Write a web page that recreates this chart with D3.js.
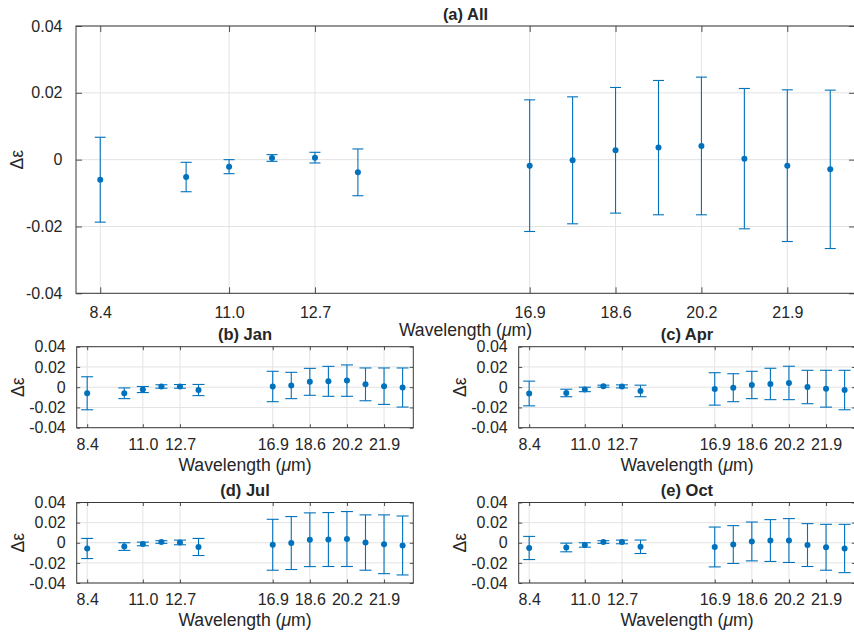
<!DOCTYPE html>
<html>
<head>
<meta charset="utf-8">
<script src="https://cdn.jsdelivr.net/npm/d3@7"></script>
<style>
  html, body { margin: 0; padding: 0; background: #fff; }
  svg { display: block; }
  text { font-family: Helvetica, "Liberation Sans", Arial, sans-serif; fill: #262626; }
</style>
</head>
<body>
<svg id="chart" width="854" height="637"></svg>
<script>
// ---------------- data ----------------
const bands = [8.40, 10.10, 10.95, 11.80, 12.65, 13.50, 16.90, 17.75, 18.60, 19.45, 20.30, 21.15, 22.00, 22.85];
const tickBands = [8.40, 10.95, 12.65, 16.90, 18.60, 20.30, 22.00];
const tickLabels = ["8.4", "11.0", "12.7", "16.9", "18.6", "20.2", "21.9"];
const yTicks = [-0.04, -0.02, 0, 0.02, 0.04];
const yTickLabels = ["-0.04", "-0.02", "0", "0.02", "0.04"];

const allMean = [-0.0060, -0.0052, -0.0021, 0.0005, 0.0006, -0.0038, -0.0018, -0.0002, 0.0028, 0.0036, 0.0041, 0.0003, -0.0018, -0.0029];
const allErr  = [ 0.0127,  0.0044,  0.0021, 0.0010, 0.0016,  0.0070,  0.0197,  0.0190, 0.0188, 0.0201, 0.0206, 0.0210,  0.0227,  0.0237];

const janMean = [-0.0060, -0.0060, -0.0023, 0.0007, 0.0008, -0.0028, 0.0007, 0.0017, 0.0053, 0.0058, 0.0065, 0.0028, 0.0010, -0.0003];
const janErr  = [ 0.0163,  0.0053,  0.0030, 0.0017, 0.0018,  0.0055, 0.0150, 0.0130, 0.0133, 0.0148, 0.0155, 0.0162, 0.0180,  0.0193];

const aprMean = [-0.0062, -0.0057, -0.0022, 0.0010, 0.0008, -0.0037, -0.0017, -0.0005, 0.0022, 0.0032, 0.0042, 0.0002, -0.0015, -0.0028];
const aprErr  = [ 0.0122,  0.0037,  0.0022, 0.0010, 0.0015,  0.0057,  0.0160,  0.0138, 0.0135, 0.0155, 0.0165, 0.0165,  0.0182,  0.0195];

const julMean = [-0.0057, -0.0038, -0.0012, 0.0007, 0.0003, -0.0042, -0.0020, -0.0003, 0.0030, 0.0032, 0.0037, 0.0002, -0.0015, -0.0027];
const julErr  = [ 0.0100,  0.0038,  0.0018, 0.0013, 0.0023,  0.0085,  0.0253,  0.0263, 0.0267, 0.0268, 0.0273, 0.0275,  0.0292,  0.0293];

const octMean = [-0.0052, -0.0047, -0.0022, 0.0007, 0.0008, -0.0040, -0.0042, -0.0018, 0.0013, 0.0022, 0.0022, -0.0023, -0.0045, -0.0057];
const octErr  = [ 0.0115,  0.0043,  0.0022, 0.0013, 0.0018,  0.0067,  0.0198,  0.0188, 0.0193, 0.0208, 0.0218,  0.0213,  0.0228,  0.0240];

const xDomain = [7.92, 23.34];
const yDomain = [-0.04, 0.04];

// ---------------- drawing ----------------
const svg = d3.select("#chart");
const blue = "#0072BD";

function panel(cfg) {
  const { left, top, width, height, title, mean, err, tickLen, capHalf, r } = cfg;
  const x = d3.scaleLinear().domain(xDomain).range([left, left + width]);
  const y = d3.scaleLinear().domain(yDomain).range([top + height, top]);
  const g = svg.append("g");

  // grid
  g.selectAll("line.gx").data(tickBands).join("line")
    .attr("x1", d => x(d)).attr("x2", d => x(d))
    .attr("y1", top).attr("y2", top + height)
    .attr("stroke", "#e3e3e3").attr("stroke-width", 1);
  g.selectAll("line.gy").data(yTicks).join("line")
    .attr("x1", left).attr("x2", left + width)
    .attr("y1", d => y(d)).attr("y2", d => y(d))
    .attr("stroke", "#e3e3e3").attr("stroke-width", 1);

  // axes via d3 axis generators (inward ticks, mirrored)
  const fmtX = (d, i) => tickLabels[i];
  const fmtY = (d, i) => yTickLabels[i];
  const axB = g.append("g").attr("transform", `translate(0,${top + height})`)
    .call(d3.axisBottom(x).tickValues(tickBands).tickFormat(fmtX).tickSizeInner(-tickLen).tickSizeOuter(0).tickPadding(tickLen + 7));
  const axT = g.append("g").attr("transform", `translate(0,${top})`)
    .call(d3.axisTop(x).tickValues(tickBands).tickFormat("").tickSizeInner(-tickLen).tickSizeOuter(0));
  const axL = g.append("g").attr("transform", `translate(${left},0)`)
    .call(d3.axisLeft(y).tickValues(yTicks).tickFormat(fmtY).tickSizeInner(-tickLen).tickSizeOuter(0).tickPadding(tickLen + 7.5));
  const axR = g.append("g").attr("transform", `translate(${left + width},0)`)
    .call(d3.axisRight(y).tickValues(yTicks).tickFormat("").tickSizeInner(-tickLen).tickSizeOuter(0));
  [axB, axT, axL, axR].forEach(a => {
    a.select(".domain").remove();
    a.selectAll(".tick line").attr("stroke", "#262626").attr("stroke-width", 0.8);
    a.selectAll(".tick text").attr("font-size", 16).attr("fill", "#262626")
      .style("font-family", 'Helvetica, "Liberation Sans", Arial, sans-serif');
  });
  axB.selectAll(".tick text").attr("dy", "0.71em");

  // box
  g.append("rect").attr("x", left).attr("y", top).attr("width", width).attr("height", height)
    .attr("fill", "none").attr("stroke", "#3a3a3a").attr("stroke-width", 1);

  // error bars
  const eb = g.append("g");
  bands.forEach((b, i) => {
    const cx = x(b), lo = y(mean[i] - err[i]), hi = y(mean[i] + err[i]);
    eb.append("line").attr("x1", cx).attr("x2", cx).attr("y1", lo).attr("y2", hi)
      .attr("stroke", blue).attr("stroke-width", 1.1);
    [lo, hi].forEach(yy => eb.append("line")
      .attr("x1", cx - capHalf).attr("x2", cx + capHalf).attr("y1", yy).attr("y2", yy)
      .attr("stroke", blue).attr("stroke-width", 1.1));
  });
  g.selectAll("circle.pt").data(bands).join("circle")
    .attr("cx", d => x(d)).attr("cy", (d, i) => y(mean[i])).attr("r", r).attr("fill", blue);

  // title
  g.append("text").attr("x", left + width / 2).attr("y", top - 12)
    .attr("text-anchor", "middle").attr("dy", "0.35em")
    .attr("font-size", 16.5).attr("font-weight", "bold").attr("fill", "#000").text(title);

  // x label
  const xl = g.append("text").attr("x", left + width / 2).attr("y", top + height + 37)
    .attr("text-anchor", "middle").attr("dy", "0.35em").attr("font-size", 17.6);
  xl.append("tspan").text("Wavelength (");
  xl.append("tspan").attr("font-style", "italic").text("\u03bc");
  xl.append("tspan").text("m)");

  // y label
  g.append("text").attr("transform", `translate(${left - 59},${top + height / 2}) rotate(-90)`)
    .attr("text-anchor", "middle").attr("dy", "0.35em").attr("font-size", 17.6).text("\u0394\u03b5");
}

panel({ left: 76, top: 26, width: 779, height: 267.3, title: "(a) All", mean: allMean, err: allErr, tickLen: 6, capHalf: 5.5, r: 3 });
panel({ left: 76.7, top: 346.7, width: 336.6, height: 81, title: "(b) Jan", mean: janMean, err: janErr, tickLen: 3.5, capHalf: 6, r: 3 });
panel({ left: 518.7, top: 346.7, width: 336.6, height: 81, title: "(c) Apr", mean: aprMean, err: aprErr, tickLen: 3.5, capHalf: 6, r: 3 });
panel({ left: 76.7, top: 502.5, width: 336.6, height: 80.5, title: "(d) Jul", mean: julMean, err: julErr, tickLen: 3.5, capHalf: 6, r: 3 });
panel({ left: 518.7, top: 502.5, width: 336.6, height: 80.5, title: "(e) Oct", mean: octMean, err: octErr, tickLen: 3.5, capHalf: 6, r: 3 });
</script>
</body>
</html>
